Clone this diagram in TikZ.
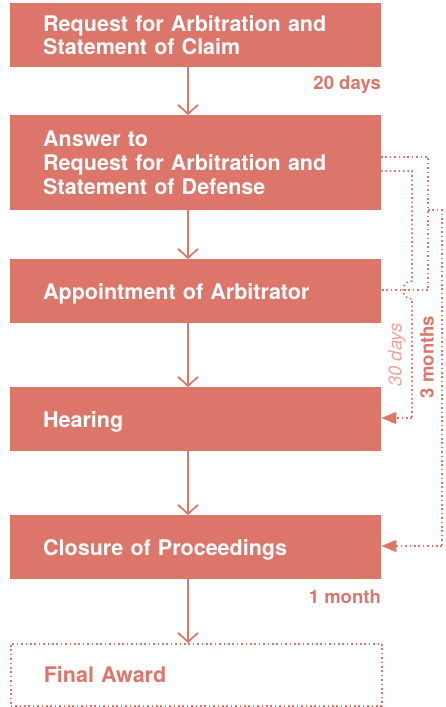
\documentclass[tikz,border=0pt]{standalone}
\usepackage{fontspec}
\setmainfont{TeX Gyre Heros}
\usetikzlibrary{arrows.meta}
\definecolor{coral}{RGB}{220,118,107}
\definecolor{lightcoral}{RGB}{236,163,154}
\newcommand\bxfont{\bfseries\fontsize{21.5}{23.6}\selectfont}
\newcommand\lbfont{\bfseries\fontsize{18.5}{22}\selectfont}
\newcommand\itfont{\itshape\fontsize{18.5}{22}\selectfont}
\begin{document}
\begin{tikzpicture}[x=1pt,y=-1pt,
  box/.style={fill=coral, draw=none, minimum width=371pt, minimum height=64pt,
    inner xsep=33pt, inner ysep=0pt, text width=305pt, align=left, font=\bxfont,
    text=white, anchor=north west},
  onebox/.style={box, text depth=0pt},
  finalbox/.style={onebox, fill=none, text=coral, draw=coral, line width=1.6pt,
    dash pattern=on 1.6pt off 2.8pt, minimum height=62pt},
  lbl/.style={font=\lbfont, text=coral, inner sep=0pt, anchor=base east},
  mainarrow/.style={draw=coral, line width=1.7pt,
    -{Straight Barb[length=9pt,width=20pt,line width=1.7pt]}},
  dotline/.style={draw=coral, line width=1.6pt, dash pattern=on 1.6pt off 2.8pt},
  dotarrow/.style={dotline, -{Triangle[length=15pt,width=12pt]}}
]
\useasboundingbox (0,0) rectangle (445,707);

% boxes
\node[box] (b1) at (10,3) {Request for Arbitration and\\Statement of Claim};
\node[box, minimum height=95pt] (b2) at (10,115) {Answer to\\Request for Arbitration and\\Statement of Defense};
\node[onebox] (b3) at (10,259) {Appointment of Arbitrator};
\node[onebox] (b4) at (10,387) {Hearing};
\node[onebox] (b5) at (10,515) {Closure of Proceedings};
\node[finalbox] (b6) at (10,643) {Final Award};

% labels
\node[lbl] (l20) at (381,89) {20 days};
\node[lbl] (l1m) at (381,603) {1 month};
\node[font=\itfont, text=lightcoral, rotate=90, inner sep=0pt] (l30) at (397,355) {30 days};
\node[font=\lbfont, text=coral, rotate=90, inner sep=0pt] (l3m) at (427,357) {3 months};

% main arrows
\coordinate (ax) at (188,0);
\draw[mainarrow] (b1.south -| ax) -- (b2.north -| ax);
\draw[mainarrow] (b2.south -| ax) -- (b3.north -| ax);
\draw[mainarrow] (b3.south -| ax) -- (b4.north -| ax);
\draw[mainarrow] (b4.south -| ax) -- (b5.north -| ax);
\draw[mainarrow] (b5.south -| ax) -- (b6.north -| ax);

% dotted connectors
\coordinate (p1) at (381,157);
\coordinate (p2) at (428,157);
\coordinate (p3) at (428,290);
\coordinate (p4) at (428,210);
\coordinate (p5) at (442,210);
\coordinate (p6) at (442,546);
\coordinate (q1) at (381,171);
\coordinate (q2) at (412,171);
\coordinate (q3) at (412,281);
\coordinate (q4) at (412,299);
\coordinate (q5) at (412,418);

\draw[dotline] (p1) -- (p2) -- (p3) -- (b3.east |- p3);
\draw[dotline] (p4) -- (p5) -- (p6);
\draw[dotarrow] (p6) -- (b5.east |- p6);
\draw[dotline] (q1) -- (q2) -- (q3) .. controls (400,281) and (400,299) .. (q4) -- (q5);
\draw[dotarrow] (q5) -- (b4.east |- q5);
\end{tikzpicture}
\end{document}
